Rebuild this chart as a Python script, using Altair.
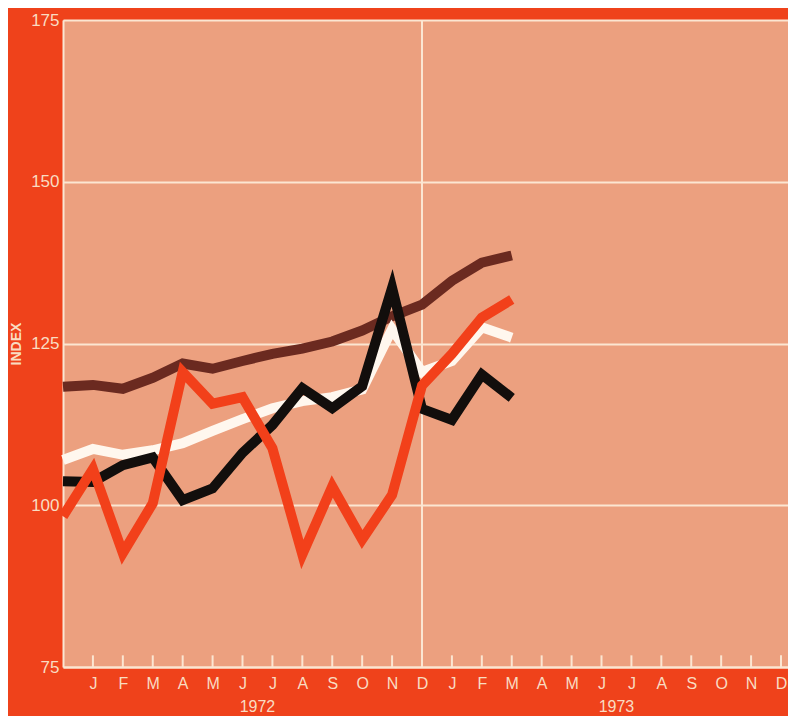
import json
import altair as alt
import pandas as pd

# x index 0 = Dec 1971 ... 24 = Dec 1973
tick_labels = ["J", "F", "M", "A", "M", "J", "J", "A", "S", "O", "N", "D",
               "J", "F", "M", "A", "M", "J", "J", "A", "S", "O", "N", "D"]
tick_pos = list(range(1, 25))
years = ["1972", "1973"]
year_pos = [6.5, 18.5]
divider = [12]
y_ticks = [75, 100, 125, 150, 175]

series_names = ["brown", "white", "black", "red"]
series_colors = ["#6b2a20", "#fff7ee", "#120e0c", "#f2401a"]
brown = [118.3, 118.6, 118.0, 119.7, 121.9, 121.1, 122.3, 123.4, 124.2, 125.3,
         127.0, 129.2, 131.0, 134.7, 137.5, 138.6]
white = [107.0, 108.7, 107.8, 108.5, 109.6, 111.5, 113.3, 115.0, 116.1, 116.7,
         117.9, 127.2, 120.6, 122.3, 127.5, 125.9]
black = [103.7, 103.6, 106.2, 107.4, 100.8, 102.6, 108.1, 112.4, 118.1, 115.0,
         118.4, 133.6, 114.9, 113.2, 120.2, 116.6]
red = [98.3, 105.6, 92.6, 100.3, 120.6, 115.7, 116.7, 108.8, 92.4, 102.9,
       94.7, 101.6, 118.5, 123.4, 129.0, 131.8]
values = {"brown": brown, "white": white, "black": black, "red": red}

rows = []
for name in series_names:
    for i, v in enumerate(values[name]):
        rows.append({"series": name, "idx": i, "value": v})
df = pd.DataFrame(rows)

W, H = 725, 647
CREAM = "#f9dcc2"
GRID = "#fbe6d2"
FONT = "Liberation Sans"

# plot area runs a little past the last month so the final label stays visible
xscale = alt.Scale(domain=[0, 24 * 725 / 718], nice=False, zero=False)
yscale = alt.Scale(domain=[75, 175], nice=False, zero=False)

label_expr = json.dumps(tick_labels) + "[datum.value - 1]"

x_axis = alt.Axis(values=tick_pos, labelExpr=label_expr, grid=False, domain=True,
                  domainColor=GRID, domainWidth=2, ticks=False, labelPadding=8,
                  labelFontSize=16, labelColor=CREAM, labelFont=FONT,
                  labelFlush=False, labelOverlap=False, title="")
y_axis = alt.Axis(values=y_ticks, grid=True, gridColor=GRID, gridWidth=2,
                  domain=True, domainColor=GRID, domainWidth=2, ticks=False,
                  labelPadding=4, labelFontSize=17, labelColor=CREAM, labelFont=FONT,
                  title="INDEX", titleFontSize=14, titleColor=CREAM, titleFont=FONT,
                  titleFontWeight="bold", titleX=-47, titleY=H / 2,
                  titleAngle=-90, titleAlign="center", titleBaseline="middle")


def X(field):
    return alt.X(field, scale=xscale, axis=x_axis, title="")


def Y(field):
    return alt.Y(field, scale=yscale, axis=y_axis, title="INDEX")


div_layer = alt.Chart(pd.DataFrame({"x": divider, "y": [75]})).mark_rule(
    color=GRID, strokeWidth=2).encode(x=X("x:Q"))

tick_df = pd.DataFrame({"x": tick_pos, "y0": [75] * len(tick_pos),
                        "y1": [76.8] * len(tick_pos)})
tick_layer = alt.Chart(tick_df).mark_rule(color=GRID, strokeWidth=2).encode(
    x=X("x:Q"), y=Y("y0:Q"), y2="y1:Q")

year_layer = alt.Chart(pd.DataFrame({"x": year_pos, "t": years, "y": [75, 75]})).mark_text(
    color=CREAM, fontSize=16, font=FONT, dy=40, baseline="middle").encode(
    x=X("x:Q"), y=Y("y:Q"), text="t:N")

line_layers = []
for name, col in zip(series_names, series_colors):
    line_layers.append(
        alt.Chart(df).transform_filter(alt.datum.series == name).mark_line(
            color=col, strokeWidth=10, strokeJoin="miter", strokeMiterLimit=10
        ).encode(x=X("idx:Q"), y=Y("value:Q"))
    )

chart = alt.layer(div_layer, tick_layer, year_layer, *line_layers).properties(
    width=W, height=H,
    padding={"left": 55, "top": 12, "right": 0, "bottom": 49},
    autosize=alt.AutoSizeParams(type="none"),
    background="#ef421b",
).configure_view(fill="#eca07f", strokeWidth=0)

chart.save("out.html", embed_options={"renderer": "svg", "actions": False})
